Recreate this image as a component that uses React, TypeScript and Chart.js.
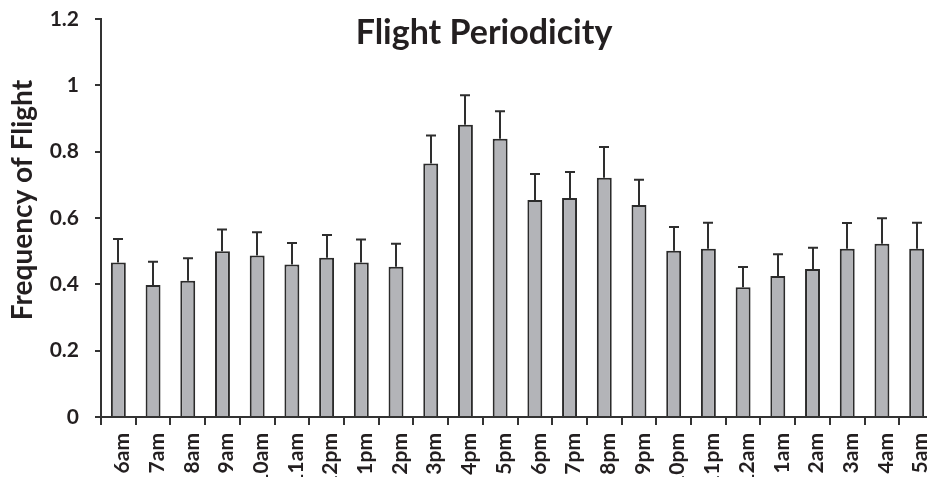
import React, { useEffect, useRef } from "react";
import { Chart, registerables } from "chart.js";

Chart.register(...registerables);

const hours = [
  "6am", "7am", "8am", "9am", "10am", "11am", "12pm", "1pm", "2pm", "3pm", "4pm", "5pm",
  "6pm", "7pm", "8pm", "9pm", "10pm", "11pm", "12am", "1am", "2am", "3am", "4am", "5am",
];

const meanFrequency = [
  0.466, 0.398, 0.411, 0.5, 0.487, 0.46, 0.48, 0.466, 0.453, 0.764, 0.881, 0.839,
  0.654, 0.66, 0.721, 0.639, 0.501, 0.507, 0.391, 0.425, 0.446, 0.507, 0.522, 0.507,
];

const errorFrequency = [
  0.071, 0.07, 0.068, 0.065, 0.07, 0.065, 0.069, 0.069, 0.069, 0.085, 0.089, 0.083,
  0.079, 0.079, 0.093, 0.076, 0.072, 0.079, 0.061, 0.066, 0.064, 0.078, 0.077, 0.079,
];

const yTicks = [0, 0.2, 0.4, 0.6, 0.8, 1, 1.2];

const titleText = "Flight Periodicity";
const yTitleText = "Frequency of Flight";

const FONT = "Lato";
const TEXT = "#231f20";
const AXIS = "#333333";

const errorBarPlugin = {
  id: "errorBars",
  afterDatasetsDraw(chart: any) {
    const meta = chart.getDatasetMeta(0);
    const y = chart.scales.y;
    const ctx = chart.ctx;
    ctx.save();
    ctx.strokeStyle = "#2e2e2e";
    ctx.lineWidth = 2;
    meta.data.forEach((bar: any, i: number) => {
      const top = y.getPixelForValue(meanFrequency[i] + errorFrequency[i]);
      const x = Math.round(bar.x);
      ctx.beginPath();
      ctx.moveTo(x, bar.y);
      ctx.lineTo(x, top);
      ctx.moveTo(x - 5, top);
      ctx.lineTo(x + 5, top);
      ctx.stroke();
    });
    ctx.restore();
  },
};

const titlesPlugin = {
  id: "titles",
  afterDraw(chart: any) {
    const ctx = chart.ctx;
    ctx.save();
    ctx.fillStyle = TEXT;
    ctx.textAlign = "center";
    ctx.textBaseline = "alphabetic";
    ctx.font = `bold 34px ${FONT}`;
    ctx.fillText(titleText, 484, 44);
    ctx.translate(32, 200);
    ctx.rotate(-Math.PI / 2);
    ctx.font = `bold 28px ${FONT}`;
    ctx.fillText(yTitleText, 0, 0);
    ctx.restore();
  },
};

export default function App() {
  const ref = useRef<HTMLCanvasElement | null>(null);

  useEffect(() => {
    if (!ref.current) return;
    const chart = new Chart(ref.current, {
      type: "bar",
      data: {
        labels: hours,
        datasets: [
          {
            data: meanFrequency,
            backgroundColor: "#b3b4b8",
            borderColor: "#2b2b2b",
            borderWidth: 2,
            categoryPercentage: 1,
            barPercentage: 0.43,
          },
        ],
      },
      options: {
        animation: false,
        responsive: false,
        layout: { padding: { top: 19, right: 6, left: 0, bottom: 0 } },
        plugins: {
          legend: { display: false },
          tooltip: { enabled: false },
          title: { display: false },
        },
        scales: {
          x: {
            afterFit(scale: any) {
              scale.height = 93;
              scale.paddingLeft = 0;
              scale.paddingRight = 0;
            },
            grid: {
              display: true,
              drawOnChartArea: false,
              drawTicks: true,
              tickLength: 8,
              color: AXIS,
              lineWidth: 2,
              offset: true,
            },
            border: { display: true, color: AXIS, width: 2 },
            ticks: {
              maxRotation: 90,
              minRotation: 90,
              autoSkip: false,
              padding: 8,
              labelOffset: 4,
              color: TEXT,
              font: { family: FONT, size: 21, weight: "bold" },
            },
          },
          y: {
            min: 0,
            max: 1.2,
            afterFit(scale: any) {
              scale.width = 101;
              scale.paddingTop = 0;
              scale.paddingBottom = 0;
            },
            afterBuildTicks(scale: any) {
              scale.ticks = yTicks.map((v) => ({ value: v }));
            },
            grid: {
              display: true,
              drawOnChartArea: false,
              drawTicks: true,
              tickLength: 6,
              color: AXIS,
              lineWidth: 2,
            },
            border: { display: true, color: AXIS, width: 2 },
            ticks: {
              padding: 16,
              color: TEXT,
              font: { family: FONT, size: 21, weight: "bold" },
              callback: (v: any) => String(Math.round(Number(v) * 10) / 10),
            },
          },
        },
      },
      plugins: [errorBarPlugin, titlesPlugin],
    });
    return () => chart.destroy();
  }, []);

  return (
    <div
      style={{
        position: "fixed",
        left: 0,
        top: 0,
        width: 927,
        height: 477,
        overflow: "hidden",
        background: "#ffffff",
      }}
    >
      <canvas ref={ref} width={940} height={510} style={{ display: "block" }} />
    </div>
  );
}
